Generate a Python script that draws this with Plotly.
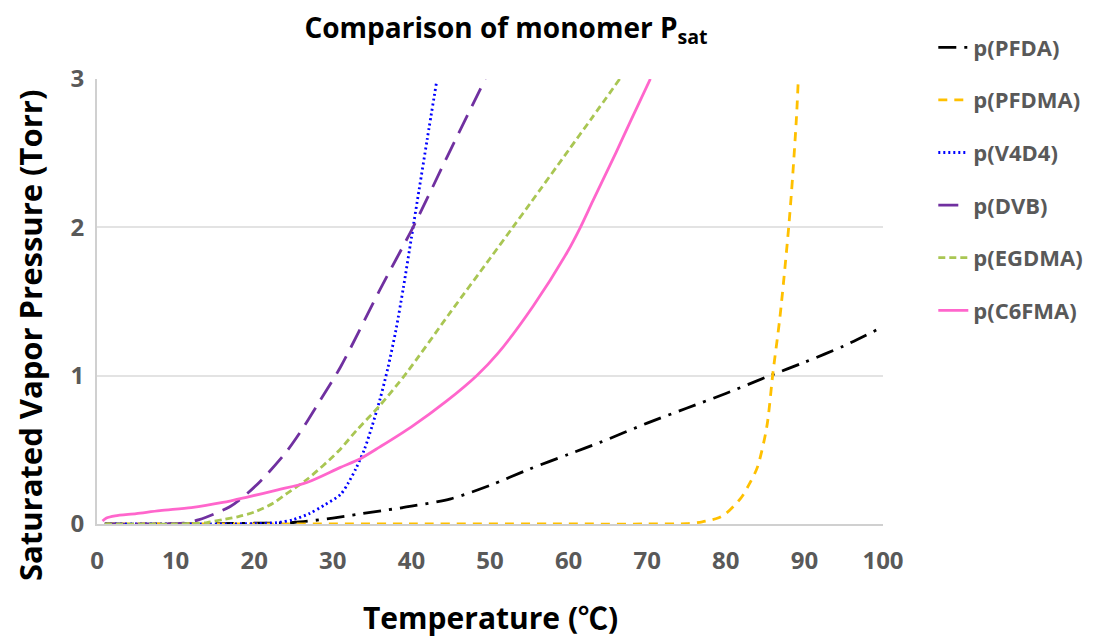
import plotly.graph_objects as go

# ---- data ----
pfda_T = [1, 10, 20, 25, 30, 35, 40, 45, 50, 55, 60, 64, 70, 75, 80, 85.6, 90, 95, 100]
pfda_P = [0, 0, 0.005, 0.01, 0.04, 0.08, 0.12, 0.17, 0.26, 0.37, 0.47, 0.55, 0.68, 0.78, 0.88, 1.0, 1.09, 1.2, 1.33]

pfdma_T = [1, 20, 40, 60, 70, 75, 77, 79, 80, 81, 82, 83, 84, 85.2, 86, 86.9, 88, 88.5, 89, 89.2]
pfdma_P = [0, 0, 0, 0, 0, 0.003, 0.015, 0.04, 0.07, 0.12, 0.18, 0.27, 0.38, 0.65, 1.02, 1.4, 2.0, 2.34, 2.75, 2.97]

v4d4_T = [1, 10, 20, 23, 25, 27, 29, 31, 32, 33, 34, 35, 36, 37, 38, 39, 40, 41, 42, 43.2]
v4d4_P = [0, 0, 0.003, 0.01, 0.03, 0.07, 0.13, 0.2, 0.28, 0.38, 0.5, 0.66, 0.84, 1.05, 1.3, 1.6, 1.93, 2.26, 2.59, 2.98]

dvb_T = [1, 8, 11, 13, 15, 17, 19, 21, 24, 26, 28, 31, 36, 40.4, 44.5, 49.4]
dvb_P = [0, 0, 0.005, 0.03, 0.07, 0.12, 0.2, 0.3, 0.48, 0.63, 0.8, 1.06, 1.58, 2.02, 2.47, 3.0]

egdma_T = [1, 10, 14, 16, 18, 20, 22.4, 24, 26.7, 30.7, 33, 36, 39.4, 45, 50, 52.9, 55.1, 60, 63, 66.5]
egdma_P = [0, 0, 0.01, 0.03, 0.05, 0.08, 0.14, 0.2, 0.3, 0.49, 0.63, 0.8, 1.02, 1.43, 1.79, 2.0, 2.16, 2.52, 2.74, 3.0]

c6fma_T = [0.7, 1.2, 2.3, 5, 8, 12, 16, 19, 23, 26.7, 30.9, 33.5, 36, 40, 44.5, 48.3, 51, 55.5, 59.8, 61.5, 63.1, 66, 68, 70.4]
c6fma_P = [0.02, 0.04, 0.055, 0.07, 0.09, 0.11, 0.145, 0.18, 0.23, 0.28, 0.38, 0.44, 0.52, 0.655, 0.83, 1.0, 1.15, 1.47, 1.83, 2.0, 2.18, 2.5, 2.73, 3.0]

x_ticks = [0, 10, 20, 30, 40, 50, 60, 70, 80, 90, 100]
y_ticks = [0, 1, 2, 3]

series = [
    ("p(PFDA)", pfda_T, pfda_P, "#000000", "18px,8px,3px,8px"),
    ("p(PFDMA)", pfdma_T, pfdma_P, "#FFC000", "9px,7px"),
    ("p(V4D4)", v4d4_T, v4d4_P, "#0000FF", "2px,3px"),
    ("p(DVB)", dvb_T, dvb_P, "#7030A0", "20px,10px"),
    ("p(EGDMA)", egdma_T, egdma_P, "#A9C653", "7px,4px"),
    ("p(C6FMA)", c6fma_T, c6fma_P, "#FF66CC", "solid"),
]

FONT = "Open Sans, Noto Sans CJK KR"

fig = go.Figure()
for i, (name, t, p, color, dash) in enumerate(series):
    fig.add_trace(go.Scatter(
        x=t, y=p, mode="lines", name=name, legendgroup=f"g{i}",
        line=dict(color=color, width=2.8, dash=dash, shape="spline", smoothing=0.8),
    ))

fig.update_layout(
    width=1097, height=630,
    margin=dict(l=89, r=222, t=71, b=114),
    plot_bgcolor="white", paper_bgcolor="white",
    font=dict(family=FONT),
    title=dict(
        text="Comparison of monomer P<sub>sat</sub>",
        x=0.454, xanchor="center", y=0.968, yanchor="middle", yref="container",
        font=dict(family=FONT, size=28, color="#000000", weight="bold"),
    ),
    legend=dict(
        x=1.064, xanchor="left", y=1.118, yanchor="top",
        font=dict(family=FONT, size=22, color="#595959", weight="bold"),
        tracegroupgap=21, bgcolor="rgba(0,0,0,0)",
    ),
    showlegend=True,
    annotations=[
        dict(text="Saturated Vapor Pressure (Torr)", textangle=-90,
             xref="paper", yref="paper", x=-0.085, y=0.425,
             xanchor="center", yanchor="middle", showarrow=False,
             font=dict(family=FONT, size=31, color="#000000", weight="bold")),
        dict(text="Temperature (℃)",
             xref="paper", yref="paper", x=0.5, y=-0.211,
             xanchor="center", yanchor="middle", showarrow=False,
             font=dict(family=FONT, size=30, color="#000000", weight="bold")),
    ],
)

fig.update_xaxes(
    range=[0, 100], tickvals=x_ticks, ticktext=[str(v) for v in x_ticks],
    showgrid=False, showline=True, linecolor="#D0D0D0", linewidth=2,
    zeroline=False, ticks="", ticklabelstandoff=14,
    tickfont=dict(family=FONT, size=24, color="#595959", weight="bold"),
)
fig.update_yaxes(
    range=[0, 3], tickvals=y_ticks, ticktext=[str(v) for v in y_ticks],
    showgrid=True, gridcolor="#E3E3E3", gridwidth=2,
    showline=True, linecolor="#D0D0D0", linewidth=2,
    zeroline=False, ticks="", ticklabelstandoff=6,
    tickfont=dict(family=FONT, size=24, color="#595959", weight="bold"),
)

fig.write_html("out.html")
